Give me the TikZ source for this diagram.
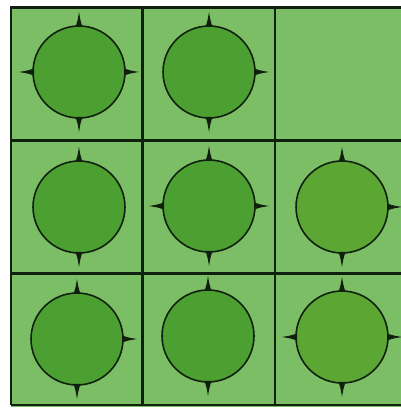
\documentclass[tikz,border=0pt]{standalone}
\usepackage{tikz}

\definecolor{cellgreen}{RGB}{124,190,102}
\definecolor{discgreen}{RGB}{76,160,50}
\definecolor{discyellow}{RGB}{92,166,52}
\definecolor{lineblk}{RGB}{16,32,14}

% one spike on the rim of a disc: node name, angle
\newcommand\thorn[2]{%
  \fill[lineblk, shift={(#1.center)}, rotate=#2]
    (45,3.6) .. controls (51,1.5) .. (60,0) .. controls (51,-1.5) .. (45,-3.6) -- cycle;}

\begin{document}
\begin{tikzpicture}[x=0.02cm, y=0.02cm]
\tikzset{
  disc/.style={circle, draw=lineblk, line width=0.9pt, fill=discgreen,
    minimum size=1.84cm, inner sep=0pt},
  gridline/.style={draw=lineblk, line width=1.2pt}
}

\useasboundingbox (0,0) rectangle (401,408);

% green sheet
\fill[cellgreen] (11,1) rectangle (401,401);

% grid lines
\draw[gridline] (11,3) -- (11,400.5) -- (401,400.5);
\foreach \x in {142.5, 275} {
    \draw[gridline] (\x,3) -- (\x,400.5);
}
\foreach \y in {3, 134.5, 267.5} {
    \draw[gridline] (11,\y) -- (401,\y);
}

% discs
\foreach \name/\cx/\cy/\col in {c11/79/336/discgreen, c12/209/336/discgreen,
    c21/79/201/discgreen, c22/209/202/discgreen, c23/342/201/discyellow,
    c31/77/69/discgreen, c32/208/72/discgreen, c33/342/71/discyellow} {
    \node[disc, fill=\col] (\name) at (\cx,\cy) {};
}

% spikes
\foreach \name/\dirs in {c11/{0,90,180,270}, c12/{0,90,270}, c21/{90,270},
    c22/{0,90,180,270}, c23/{0,90,270}, c31/{0,90,270}, c32/{90,270},
    c33/{0,90,180,270}} {
    \foreach \a in \dirs {\thorn{\name}{\a}}
}

\end{tikzpicture}
\end{document}
